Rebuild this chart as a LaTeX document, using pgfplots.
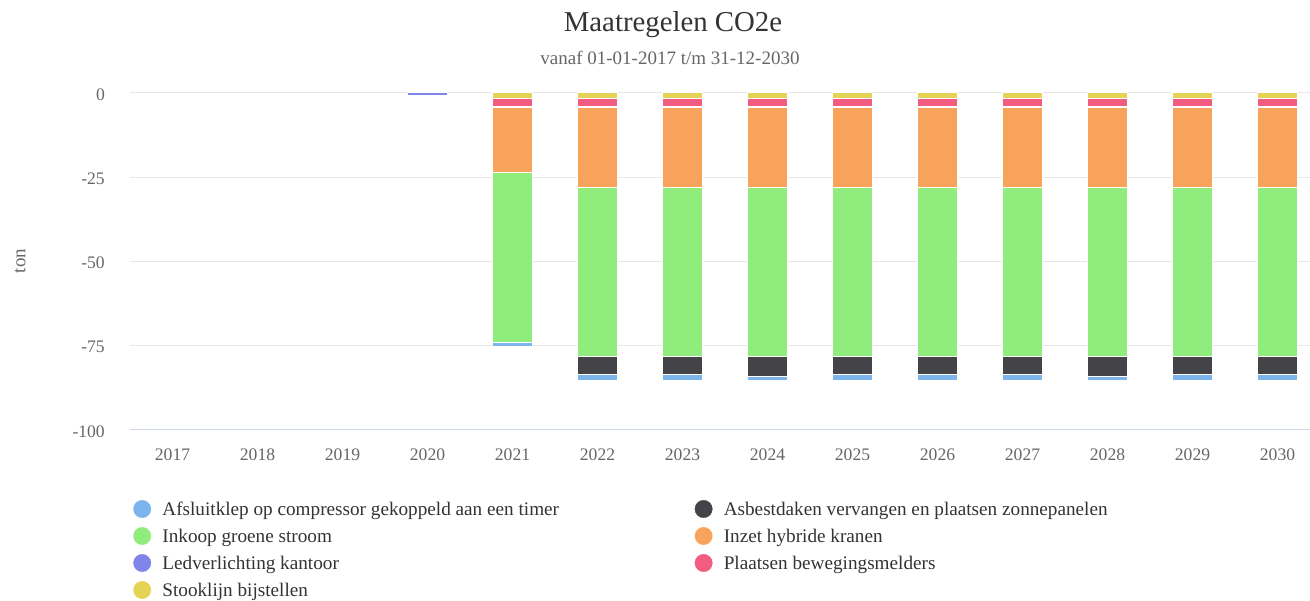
\documentclass[border=0pt]{standalone}
\usepackage{fontspec}
\setmainfont{Liberation Serif}
\usepackage{pgfplots}
\pgfplotsset{compat=1.18}
\definecolor{hcblue}{HTML}{7CB5EC}
\definecolor{hcdark}{HTML}{434348}
\definecolor{hcgreen}{HTML}{90ED7D}
\definecolor{hcorange}{HTML}{F7A35C}
\definecolor{hcpurple}{HTML}{8085E9}
\definecolor{hcpink}{HTML}{F15C80}
\definecolor{hcyellow}{HTML}{E4D354}
\definecolor{titlecol}{HTML}{333333}
\definecolor{subcol}{HTML}{666666}
\definecolor{gridcol}{HTML}{E6E6E6}
\definecolor{axiscol}{HTML}{CCD6EB}
\begin{document}
\begin{tikzpicture}
\path[use as bounding box] (0pt,0pt) rectangle (1310pt,601pt);
\node[anchor=base, font=\fontsize{28.8}{34}\selectfont, text=titlecol] at (673pt,569.3pt) {Maatregelen CO2e};
\node[anchor=base, font=\fontsize{19}{23}\selectfont, text=subcol] at (670pt,536pt) {vanaf 01-01-2017 t/m 31-12-2030};
\node[rotate=90, font=\fontsize{19}{23}\selectfont, text=subcol] at (20pt,340pt) {ton};
\begin{axis}[
  at={(130pt,171pt)}, anchor=south west,
  scale only axis, width=1180pt, height=337pt,
  xmin=-0.5, xmax=13.382, ymin=-100, ymax=0,
  ybar stacked, bar width=40.8pt,
  xtick={0,...,13},
  xticklabels={2017,2018,2019,2020,2021,2022,2023,2024,2025,2026,2027,2028,2029,2030},
  ytick={-100,-75,-50,-25,0},
  yticklabels={-100,-75,-50,-25,0},
  ymajorgrids, grid style={draw=gridcol, line width=1pt},
  axis x line*=bottom, axis y line*=left,
  x axis line style={-, draw=axiscol, line width=1pt},
  y axis line style={draw=none},
  major tick length=0pt,
  tick label style={font=\fontsize{17.6}{21}\selectfont, text=subcol},
  yticklabel style={anchor=east, inner sep=0pt, xshift=-25pt, yshift=-1.5pt},
  xticklabel style={anchor=north, inner sep=0pt, yshift=-19pt},
  legend columns=2,
  legend cell align=left,
  legend style={at={(0.0028,-0.1944)}, anchor=north west, draw=none, fill=none,
    inner sep=0pt, outer sep=0pt, font=\fontsize{19.2}{23}\selectfont, text=titlecol,
    nodes={inner sep=0pt, text height=20pt, text depth=7pt},
    /tikz/every odd column/.append style={column sep=11.3pt},
    /tikz/every even column/.append style={column sep=12.3pt}},
]
\addlegendimage{legend image code/.code={\fill[hcblue] (0pt,0pt) circle (8.7pt);}}
\addlegendentry{\makebox[520pt][l]{Afsluitklep op compressor gekoppeld aan een timer}}
\addlegendimage{legend image code/.code={\fill[hcdark] (0pt,0pt) circle (8.7pt);}}
\addlegendentry{\makebox[520pt][l]{Asbestdaken vervangen en plaatsen zonnepanelen}}
\addlegendimage{legend image code/.code={\fill[hcgreen] (0pt,0pt) circle (8.7pt);}}
\addlegendentry{\makebox[520pt][l]{Inkoop groene stroom}}
\addlegendimage{legend image code/.code={\fill[hcorange] (0pt,0pt) circle (8.7pt);}}
\addlegendentry{\makebox[520pt][l]{Inzet hybride kranen}}
\addlegendimage{legend image code/.code={\fill[hcpurple] (0pt,0pt) circle (8.7pt);}}
\addlegendentry{\makebox[520pt][l]{Ledverlichting kantoor}}
\addlegendimage{legend image code/.code={\fill[hcpink] (0pt,0pt) circle (8.7pt);}}
\addlegendentry{\makebox[520pt][l]{Plaatsen bewegingsmelders}}
\addlegendimage{legend image code/.code={\fill[hcyellow] (0pt,0pt) circle (8.7pt);}}
\addlegendentry{\makebox[520pt][l]{Stooklijn bijstellen}}
% Stooklijn bijstellen
\addplot[fill=hcyellow, draw=white, line width=1pt] coordinates {(0,0)(1,0)(2,0)(3,0)(4,-1.5)(5,-1.5)(6,-1.5)(7,-1.5)(8,-1.5)(9,-1.5)(10,-1.5)(11,-1.5)(12,-1.5)(13,-1.5)};
% Plaatsen bewegingsmelders
\addplot[fill=hcpink, draw=white, line width=1pt] coordinates {(0,0)(1,0)(2,0)(3,0)(4,-2.5)(5,-2.5)(6,-2.5)(7,-2.5)(8,-2.5)(9,-2.5)(10,-2.5)(11,-2.5)(12,-2.5)(13,-2.5)};
% Ledverlichting kantoor
\addplot[fill=hcpurple, draw=white, line width=1pt] coordinates {(0,0)(1,0)(2,0)(3,-0.6)(4,-0.45)(5,-0.45)(6,-0.45)(7,-0.45)(8,-0.45)(9,-0.45)(10,-0.45)(11,-0.45)(12,-0.45)(13,-0.45)};
% Inzet hybride kranen
\addplot[fill=hcorange, draw=white, line width=1pt] coordinates {(0,0)(1,0)(2,0)(3,0)(4,-19.2)(5,-23.5)(6,-23.5)(7,-23.5)(8,-23.5)(9,-23.5)(10,-23.5)(11,-23.5)(12,-23.5)(13,-23.5)};
% Inkoop groene stroom
\addplot[fill=hcgreen, draw=white, line width=1pt] coordinates {(0,0)(1,0)(2,0)(3,0)(4,-50.3)(5,-50.3)(6,-50.3)(7,-50.3)(8,-50.3)(9,-50.3)(10,-50.3)(11,-50.3)(12,-50.3)(13,-50.3)};
% Asbestdaken vervangen en plaatsen zonnepanelen
\addplot[fill=hcdark, draw=white, line width=1pt] coordinates {(0,0)(1,0)(2,0)(3,0)(4,0)(5,-5.25)(6,-5.25)(7,-5.75)(8,-5.25)(9,-5.25)(10,-5.25)(11,-5.75)(12,-5.25)(13,-5.25)};
% Afsluitklep op compressor gekoppeld aan een timer
\addplot[fill=hcblue, draw=white, line width=1pt] coordinates {(0,0)(1,0)(2,0)(3,0)(4,-1.3)(5,-1.75)(6,-1.75)(7,-1.25)(8,-1.75)(9,-1.75)(10,-1.75)(11,-1.25)(12,-1.75)(13,-1.75)};
\end{axis}
\end{tikzpicture}
\end{document}
